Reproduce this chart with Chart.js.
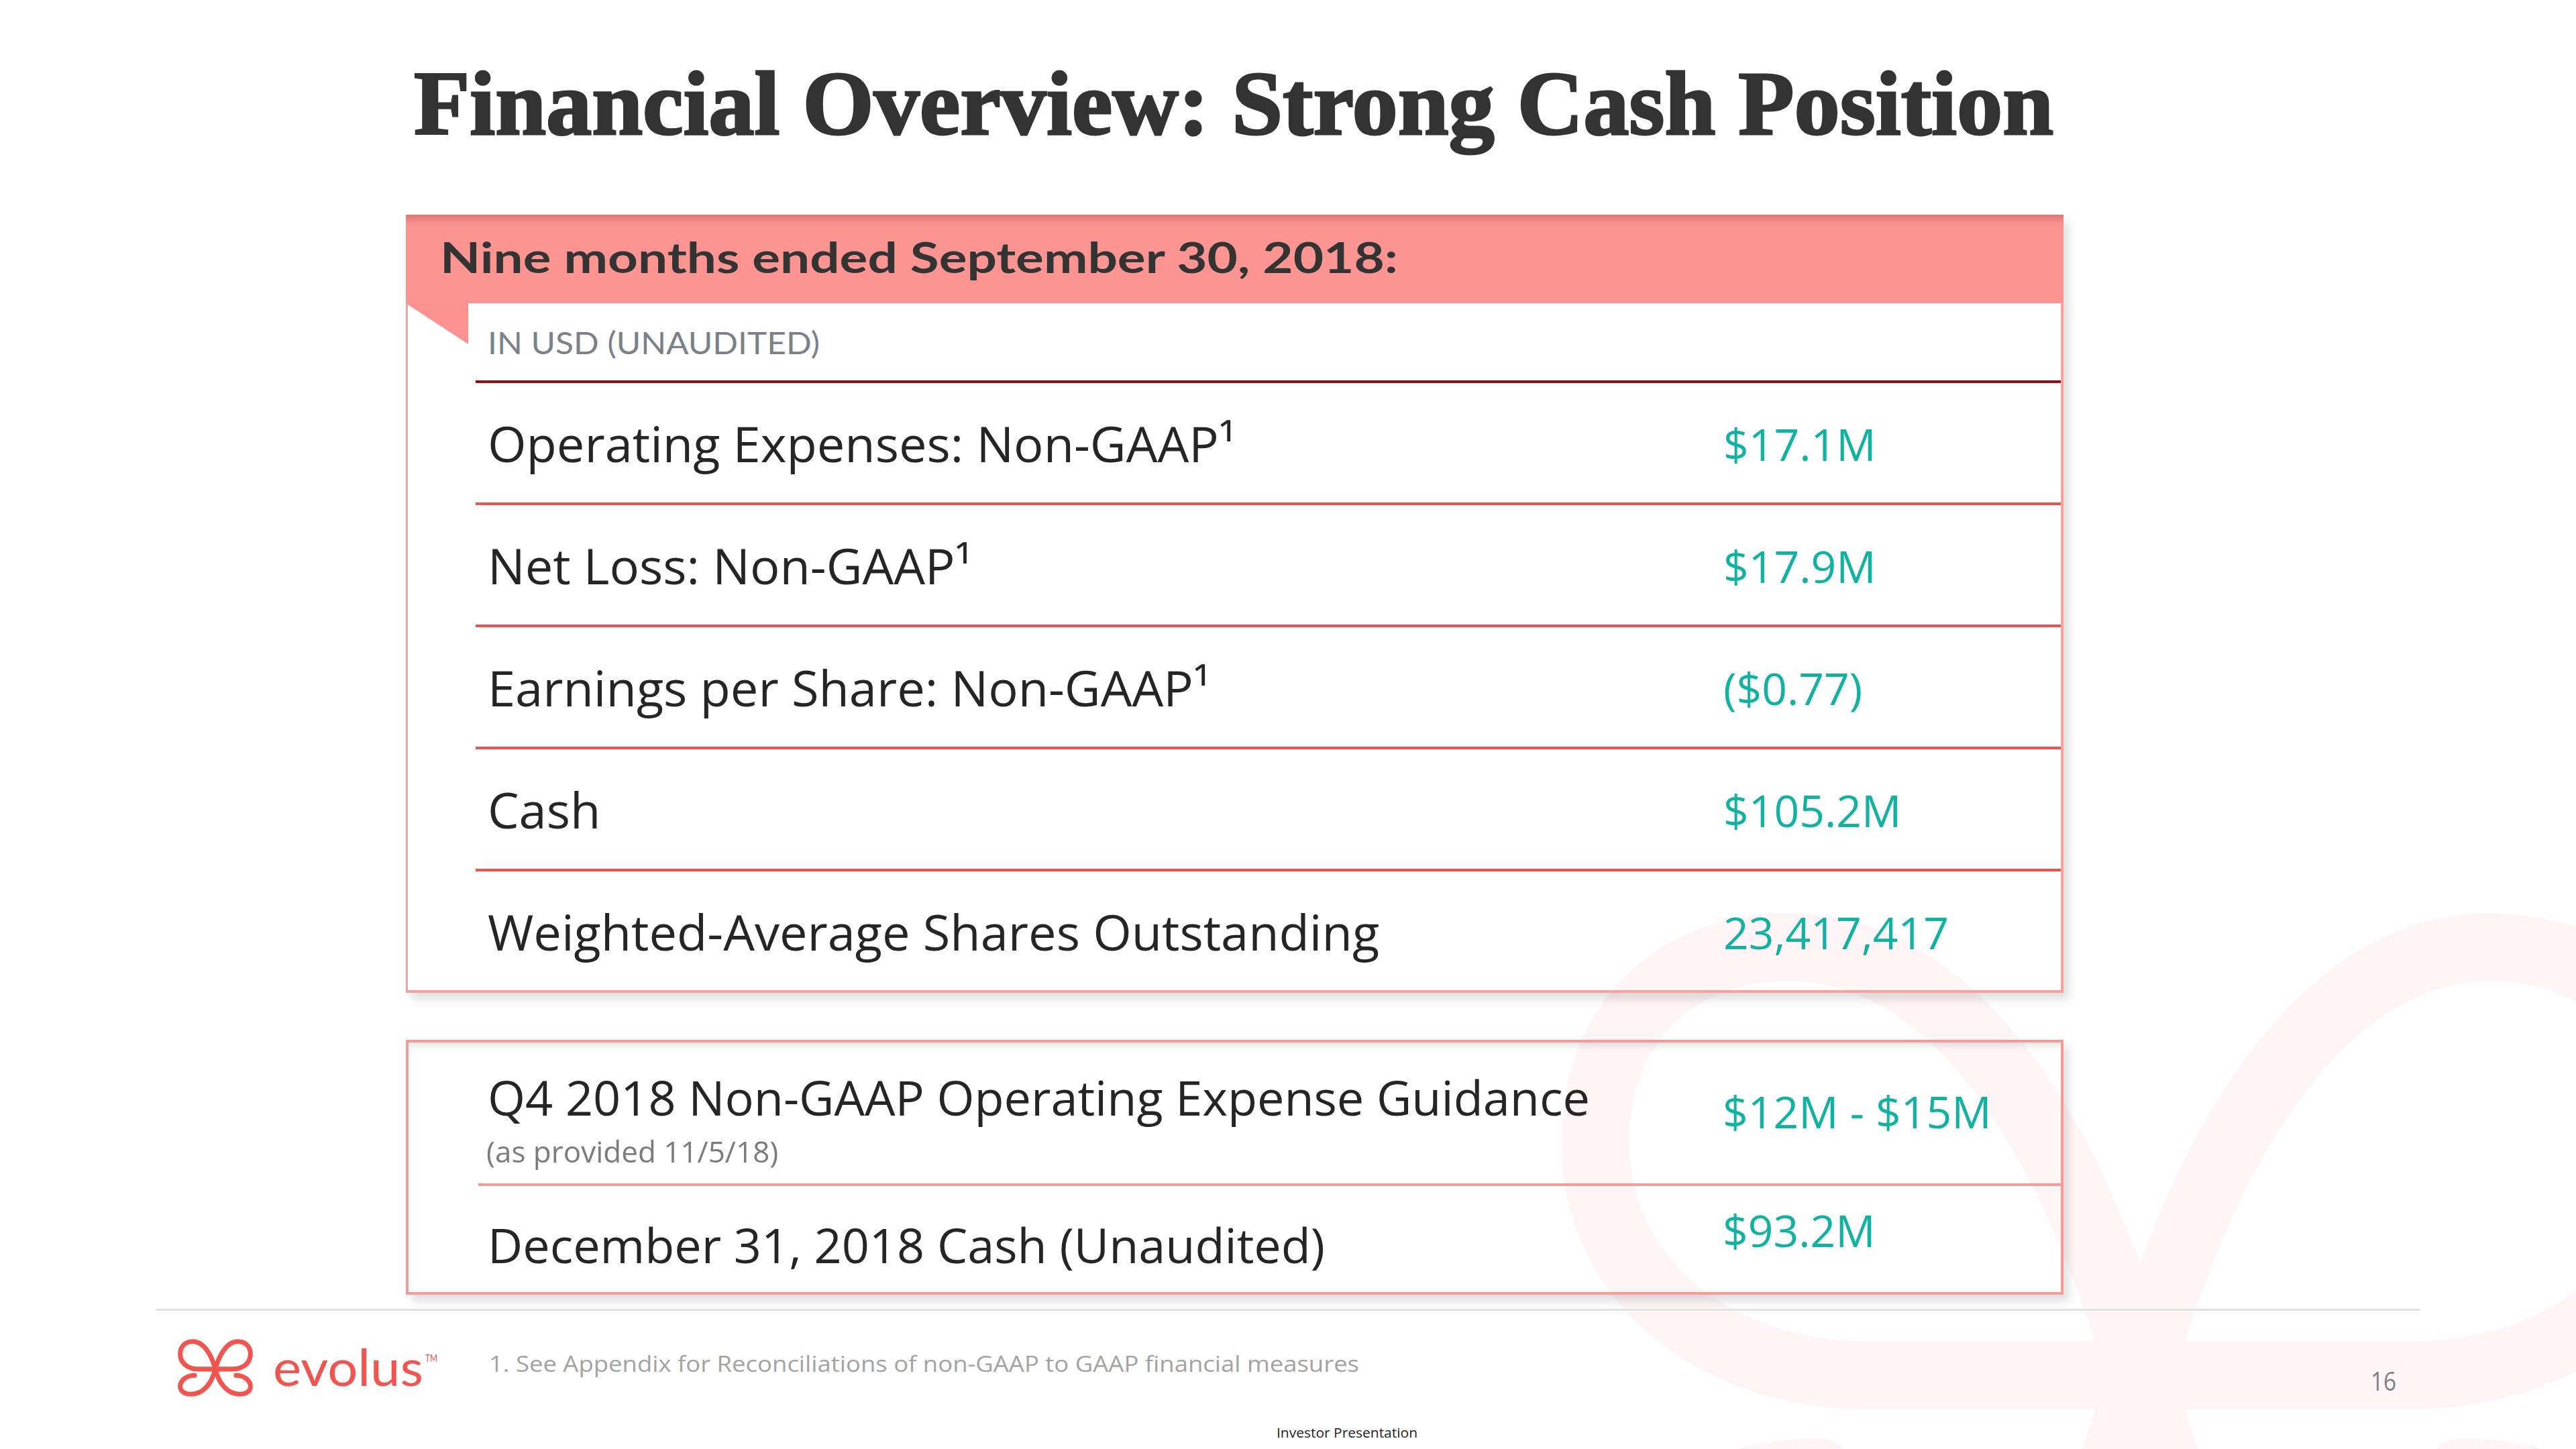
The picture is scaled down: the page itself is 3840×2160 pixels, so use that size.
<!DOCTYPE html>
<html>
<head>
<meta charset="utf-8">
<script src="https://cdn.jsdelivr.net/npm/chart.js@4.4.1/dist/chart.umd.min.js"></script>
<style>
  html, body { margin:0; padding:0; background:#ffffff; }
  body { width:3840px; height:2160px; position:relative; overflow:hidden; }
  .abs { position:absolute; }
  .txt { position:absolute; white-space:nowrap; transform-origin:0 0; margin:0; }
  #title { font-family:"Liberation Serif", serif; font-weight:700; font-size:136px; color:#333333; -webkit-text-stroke:3px #333333; }
  #band { left:605px; top:320px; width:2471px; height:132px; background:#fc9592;
          box-shadow: inset 0 16px 10px -8px rgba(170,70,70,0.35); }
  #fold { left:605px; top:452px; width:93px; height:61px; background:#fb928f; clip-path: polygon(0 0, 100% 0, 100% 100%); }
  #box1 { left:605px; top:320px; width:2471px; height:1160px; box-sizing:border-box; border:4px solid #f8a19e; border-left-width:3px;
          box-shadow: 8px 10px 12px rgba(0,0,0,0.12); }
  #box2 { left:605px; top:1550px; width:2471px; height:380px; box-sizing:border-box; border:4px solid #f79b98;
          box-shadow: 8px 10px 12px rgba(0,0,0,0.12), inset 0 14px 12px -10px rgba(0,0,0,0.12); }
  #footline { left:232px; top:1951px; width:3376px; height:3px; background:#dfe4e4; }
  #bandText { font-family:Lato, sans-serif; font-weight:700; font-size:63px; color:#333333; }
  #usd { font-family:Lato, sans-serif; font-size:46px; color:#7b8089; }
  #foot { font-family:"Open Sans", sans-serif; font-size:32px; color:#a3a3a3; }
  #page { font-family:"Open Sans", sans-serif; font-size:38px; color:#7d7e82; }
  #inv { font-family:"Open Sans", sans-serif; font-size:20px; color:#222222; }
  #evolus { font-family:Lato, sans-serif; font-size:76px; color:#f2554f; }
  #tm { font-family:Lato, sans-serif; font-size:16px; color:#f2554f; }
  canvas { position:absolute; }
</style>
</head>
<body>
<svg class="abs" style="left:2320px; top:1354px;" width="1740" height="1305" viewBox="0 0 120 90">
  <g fill="none" stroke="#fff5f6" stroke-width="7" stroke-linecap="round">
    <path d="M60 48 C54 26 42 4 24 4 C12 4 4 12 4 24 C4 38 16 48 32 48 L88 48 C104 48 116 38 116 24 C116 12 108 4 96 4 C78 4 66 26 60 48"/>
    <path d="M27 58 C14 58 4 66 4 76 C4 84 12 88 22 88 C40 88 54 72 60 48"/>
    <path d="M93 58 C106 58 116 66 116 76 C116 84 108 88 98 88 C80 88 66 72 60 48"/>
  </g>
</svg>

<div class="txt" id="title">Financial Overview: Strong Cash Position</div>
<div class="abs" id="box1"></div>
<div class="abs" id="band"></div>
<div class="abs" id="fold"></div>
<div class="txt" id="bandText">Nine months ended September 30, 2018:</div>
<div class="txt" id="usd">IN USD (UNAUDITED)</div>
<canvas id="c1" width="2471" height="922" style="left:605px; top:560px;"></canvas>

<div class="abs" id="box2"></div>
<canvas id="c2" width="2471" height="378" style="left:605px; top:1552px;"></canvas>

<div class="abs" id="footline"></div>
<svg class="abs" style="left:264px; top:1996px;" width="114" height="86" viewBox="0 0 120 92">
  <g fill="none" stroke="#f2554f" stroke-width="7.5" stroke-linecap="round">
    <path d="M60 48 C54 26 42 4 24 4 C12 4 4 12 4 24 C4 38 16 48 32 48 L88 48 C104 48 116 38 116 24 C116 12 108 4 96 4 C78 4 66 26 60 48"/>
    <path d="M27 58 C14 58 4 66 4 76 C4 84 12 88 22 88 C40 88 54 72 60 48"/>
    <path d="M93 58 C106 58 116 66 116 76 C116 84 108 88 98 88 C80 88 66 72 60 48"/>
  </g>
</svg>
<div class="txt" id="evolus">evolus</div>
<div class="txt" id="tm">TM</div>
<div class="txt" id="foot">1. See Appendix for Reconciliations of non-GAAP to GAAP financial measures</div>
<div class="txt" id="page">16</div>
<div class="txt" id="inv">Investor Presentation</div>

<script>
// ---------- data ----------
const rowLabels = [
  'Operating Expenses: Non-GAAP\u00B9',
  'Net Loss: Non-GAAP\u00B9',
  'Earnings per Share: Non-GAAP\u00B9',
  'Cash',
  'Weighted-Average Shares Outstanding'
];
const rowValues = ['$17.1M', '$17.9M', '($0.77)', '$105.2M', '23,417,417'];
const guidanceLabels = ['Q4 2018 Non-GAAP Operating Expense Guidance', 'December 31, 2018 Cash (Unaudited)'];
const guidanceNotes = ['(as provided 11/5/18)', ''];
const guidanceValues = ['$12M - $15M', '$93.2M'];

// ---------- text placement helper ----------
function placeText(id, x, baseline, targetW, anchor) {
  const el = document.getElementById(id);
  const cs = getComputedStyle(el);
  const c = document.createElement('canvas').getContext('2d');
  c.font = cs.fontStyle + ' ' + cs.fontWeight + ' ' + cs.fontSize + ' ' + cs.fontFamily;
  const m = c.measureText(el.textContent);
  const A = m.fontBoundingBoxAscent, D = m.fontBoundingBoxDescent;
  const S = parseFloat(cs.fontSize);
  el.style.lineHeight = S + 'px';
  const off = (S - (A + D)) / 2 + A;
  el.style.top = (baseline - off) + 'px';
  const w = el.getBoundingClientRect().width;
  let sx = 1;
  if (targetW) sx = targetW / w;
  const realW = w * sx;
  el.style.left = (anchor === 'center' ? x - realW / 2 : x) + 'px';
  el.style.transform = 'scaleX(' + sx + ')';
}

const TEXT_DARK = '#252525';
const TEAL = '#12b2a2';

function render() {
  placeText('title', 617, 200, 2444);
  placeText('bandText', 656, 407, 1428);
  placeText('usd', 727, 528, 495);
  placeText('foot', 729, 2045, 1297);
  placeText('page', 3534, 2073, 38);
  placeText('inv', 2008, 2143, 210, 'center');
  placeText('evolus', 407, 2066, 224);
  placeText('tm', 634, 2030, 18);

  // ---------- chart 1: nine-month table ----------
  const ROW_SHIFT = 8;
  const valueColumn1 = {
    id: 'valueColumn1',
    afterDraw(chart) {
      const {ctx, chartArea} = chart;
      const y = chart.scales.y;
      ctx.save();
      ctx.font = '66px "Open Sans"';
      ctx.fillStyle = TEAL;
      ctx.textAlign = 'left';
      ctx.textBaseline = 'middle';
      rowValues.forEach((v, i) => {
        ctx.fillText(v, chartArea.left + 1860, y.getPixelForValue(i) + ROW_SHIFT);
      });
      ctx.restore();
    }
  };

  new Chart(document.getElementById('c1'), {
    type: 'bar',
    data: { labels: rowLabels, datasets: [] },
    plugins: [valueColumn1],
    options: {
      responsive: false,
      animation: false,
      indexAxis: 'y',
      layout: { padding: { left: 104, right: 4, top: 9, bottom: 3 } },
      plugins: { legend: { display: false }, tooltip: { enabled: false }, title: { display: false } },
      scales: {
        x: { type: 'linear', display: false, min: 0, max: 1 },
        y: {
          type: 'category',
          offset: true,
          border: { display: false },
          grid: {
            offset: true,
            drawTicks: false,
            lineWidth: 4,
            color: (c) => (c.index === 0 ? '#9b0b0d' : (typeof c.index === 'number' ? '#f0504e' : 'rgba(0,0,0,0)'))
          },
          ticks: {
            mirror: true,
            padding: 18,
            labelOffset: ROW_SHIFT,
            autoSkip: false,
            crossAlign: 'near',
            color: TEXT_DARK,
            font: { family: 'Open Sans', size: 74 }
          },
          afterFit(s) { s.width = 0; s.paddingTop = 0; s.paddingBottom = 0; }
        }
      }
    }
  });

  // ---------- chart 2: guidance box ----------
  const labelDy = [-43, 15];
  const noteDy = [35, 0];
  const valueDy = [-22, -7];
  const guidanceText = {
    id: 'guidanceText',
    afterDraw(chart) {
      const {ctx, chartArea} = chart;
      const y = chart.scales.y;
      ctx.save();
      ctx.textAlign = 'left';
      ctx.textBaseline = 'middle';
      guidanceLabels.forEach((t, i) => {
        const yc = y.getPixelForValue(i);
        ctx.font = '72px "Open Sans"';
        ctx.fillStyle = TEXT_DARK;
        ctx.fillText(t, chartArea.left + 14, yc + labelDy[i]);
        if (guidanceNotes[i]) {
          ctx.font = '44px "Open Sans"';
          ctx.fillStyle = '#7a7c80';
          ctx.fillText(guidanceNotes[i], chartArea.left + 12, yc + noteDy[i]);
        }
        ctx.font = '66px "Open Sans"';
        ctx.fillStyle = TEAL;
        ctx.fillText(guidanceValues[i], chartArea.left + 1855, yc + valueDy[i]);
      });
      ctx.restore();
    }
  };

  new Chart(document.getElementById('c2'), {
    type: 'bar',
    data: { labels: guidanceLabels, datasets: [] },
    plugins: [guidanceText],
    options: {
      responsive: false,
      animation: false,
      indexAxis: 'y',
      layout: { padding: { left: 108, right: 4, top: 52, bottom: 2 } },
      plugins: { legend: { display: false }, tooltip: { enabled: false } },
      scales: {
        x: { type: 'linear', display: false, min: 0, max: 1 },
        y: {
          type: 'category',
          offset: true,
          border: { display: false },
          grid: {
            offset: true,
            drawTicks: false,
            lineWidth: 4,
            color: (c) => (c.index === 1 ? '#f79b98' : 'rgba(0,0,0,0)')
          },
          ticks: { display: false },
          afterFit(s) { s.width = 0; s.paddingTop = 0; s.paddingBottom = 0; }
        }
      }
    }
  });
}

if (document.fonts && document.fonts.ready) {
  document.fonts.ready.then(render);
} else {
  render();
}
</script>
</body>
</html>
